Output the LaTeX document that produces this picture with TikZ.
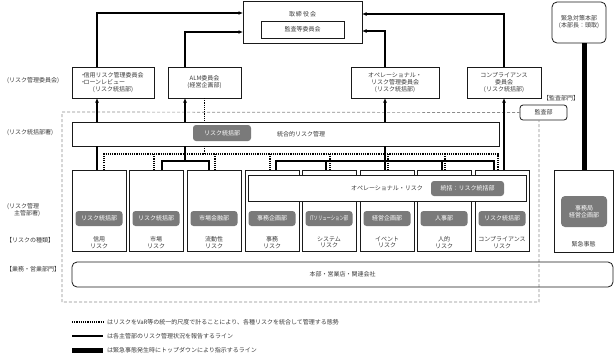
\documentclass[tikz,border=0pt]{standalone}
\usepackage{fontspec}
\setmainfont{Noto Sans CJK JP}
\usetikzlibrary{arrows.meta}
\definecolor{txt}{HTML}{3A3A3A}
\definecolor{gbox}{HTML}{7A7A7A}
\definecolor{ln}{HTML}{1A1A1A}
\definecolor{dsh}{HTML}{8C8C8C}
\begin{document}
\begin{tikzpicture}[x=1pt,y=-1pt,
  every node/.style={font=\fontsize{6}{7}\selectfont, text=txt, inner sep=0pt, outer sep=0pt},
  box/.style={draw=ln, line width=0.8pt, fill=white},
  gtag/.style={fill=gbox, rounded corners=3pt, text=white},
  rep/.style={line width=1.3pt, draw=black},
  arr/.style={rep, -{Latex[length=4.5pt,width=4pt]}},
  dots/.style={line width=1.1pt, draw=black, dash pattern=on 1.1pt off 1.1pt},
  audline/.style={draw=dsh, line width=0.7pt, dash pattern=on 3pt off 2pt},
  thickl/.style={line width=5pt, draw=black},
  lab/.style={anchor=west},
  risktxt/.style={align=center, font=\fontsize{6}{6.5}\selectfont},
]
\useasboundingbox (0,0) rectangle (616,360);

% columns
\coordinate (k1) at (97,0);
\coordinate (k2) at (185,0);
\coordinate (k3) at (385,0);
\coordinate (k4) at (504,0);
\coordinate (ek) at (584,0);

% audit frame (dashed)
\node[box, rounded corners=3pt, minimum width=47, minimum height=15] (audit) at (543.5,112.5) {監査部};
\node (auditl) at (561,98) {【監査部門】};
\coordinate (fTL) at (62,112);
\coordinate (fBL) at (62,302);
\coordinate (fk) at (539,0);
\draw[audline] (audit.west) -- (fTL) -- (fBL) -| (fk |- audit.south);

% board
\node[box, minimum width=119, minimum height=42] (board) at (302.5,22) {};
\node (boardt) at (302.5,14) {取\kern1pt 締\kern1pt 役\kern1pt 会};
\node[box, minimum width=83, minimum height=17] (audc) at (302.5,29.5) {監査等委員会};

% committees
\node[box, minimum width=82, minimum height=31, align=center] (c1) at (113,82.5)
  {\makebox[66pt][l]{・\kern-2.5pt 信用リスク管理委員会}\\\makebox[66pt][l]{・\kern-2.5pt ローンレビュー}\\(リスク統括部)};
\node[box, minimum width=73, minimum height=31, align=center] (c2) at (204.5,82.5) {ALM委員会\\(経営企画部)};
\node[box, minimum width=88, minimum height=31, align=center] (c3) at (395,82.5) {オペレーショナル・\\リスク管理委員会\\(リスク統括部)};
\node[box, minimum width=74, minimum height=31, align=center] (c4) at (504,82.5) {コンプライアンス\\委員会\\(リスク統括部)};
\node[box, rounded corners=5pt, minimum width=54, minimum height=41, align=center] (ehq) at (579,22.5) {緊急対策本部\\(本部長：頭取)};

% arrows to board
\draw[arr] (k1 |- c1.north) |- ([yshift=9pt]board.west);
\draw[arr] (k2 |- c2.north) |- ([yshift=-10pt]board.west);
\draw[arr] (k3 |- c3.north) |- ([yshift=-9pt]board.east);
\draw[arr] (k4 |- c4.north) |- ([yshift=8pt]board.east);

% left labels
\node[lab] (l1) at (7,81) {(リスク管理委員会)};
\node[lab] (l2) at (7,133) {(リスク統括部署)};
\node[lab, align=left, font=\fontsize{6}{6.5}\selectfont] (l3) at (7,210) {(リスク管理\\\hspace*{7pt}主管部署)};
\node[lab] (l4) at (6,240) {【リスクの種類】};
\node[lab] (l5) at (6,269) {【業務・営業部門】};

% integrated risk bar
\node[box, minimum width=427, minimum height=24] (bar) at (285.5,134) {};
\node[gtag, minimum width=58, minimum height=16] (rsk) at (222,133) {リスク統括部};
\node[anchor=west] (intl) at (277,134) {統合的リスク管理};

% risk boxes
\foreach \i/\x/\dept/\rl in {
  1/72/{リスク統括部}/{信用\\リスク},
  2/129/{リスク統括部}/{市場\\リスク},
  3/187/{市場金融部}/{流動性\\リスク},
  4/245/{事務企画部}/{事務\\リスク},
  5/302/{\scalebox{0.72}[1]{ITソリューション部}}/{システム\\リスク},
  6/360/{経営企画部}/{イベント\\リスク},
  7/417/{人事部}/{人的\\リスク},
  8/475/{リスク統括部}/{コンプライアンス\\リスク}}{
  \node[box, minimum width=54, minimum height=81] (r\i) at (\x+27,210.5) {};
  \node[gtag, minimum width=47, minimum height=15] (g\i) at (\x+27,218.5) {\dept};
  \node[risktxt] (t\i) at (\x+27,242.5) {\rl};
}

% operational risk overlay
\node[box, minimum width=278, minimum height=26] (opr) at (387,188) {};
\node (oprt) at (387,188) {オペレーショナル・リスク};
\node[gtag, minimum width=73, minimum height=15] (oprg) at (467.5,188.5) {統括：リスク統括部};

% emergency
\node[box, minimum width=59, minimum height=82] (emg) at (583.5,211) {};
\node[gtag, rounded corners=4pt, minimum width=46, minimum height=31, align=center] (emgg) at (584,211.5) {事務局\\経営企画部};
\node (emgt) at (583.5,244) {緊急事態};
\draw[thickl] (ek |- ehq.south) -- (ek |- emg.north);

% business bar
\node[draw=ln, line width=0.8pt, rounded corners=5pt, minimum width=541, minimum height=25] (biz) at (342.5,274.5) {本部・営業店・関連会社};

% bar <-> committees
\draw[arr] (k1 |- bar.north) -- (k1 |- c1.south);
\draw[arr] (k2 |- bar.north) -- (k2 |- c2.south);
\draw[arr] (k3 |- bar.north) -- (k3 |- c3.south);
\draw[arr] (k4 |- r8.north) -- (k4 |- c4.south);
\draw[dots] (c2.south) -- (c2.south |- bar.north);

% bar -> risk boxes (solid)
\draw[rep] (k1 |- bar.south) -- (k1 |- r1.north);
\coordinate (j2) at (185,161);
\coordinate (s2) at (162,161);
\coordinate (s3) at (209,161);
\draw[rep] (k2 |- bar.south) -- (j2);
\draw[rep] (s2 |- r2.north) -- (s2) -- (s3) -- (s3 |- r3.north);
\coordinate (u4) at (276,161);
\coordinate (u5) at (326,161);
\coordinate (u6) at (385,161);
\coordinate (u7) at (442,161);
\coordinate (u8) at (494,161);
\draw[rep] (k3 |- bar.south) -- (u6);
\draw[rep] (u4 |- r4.north) -- (u4) -- (u8) -- (u8 |- r8.north);
\draw[rep] (u5) -- (u5 |- r5.north);
\draw[rep] (u6) -- (u6 |- r6.north);
\draw[rep] (u7) -- (u7 |- r7.north);

% dotted integration lines
\coordinate (d1) at (104,154);
\coordinate (d2) at (154,154);
\coordinate (d3) at (215,154);
\coordinate (d4) at (270,154);
\coordinate (d5) at (330,154);
\coordinate (d6) at (388,154);
\coordinate (d7) at (445,154);
\coordinate (d8) at (498,154);
\draw[dots] (c2.south |- bar.south) -- (c2.south |- d1);
\draw[dots] (d1 |- r1.north) -- (d1) -- (d8) -- (d8 |- r8.north);
\draw[dots] (d2) -- (d2 |- r2.north);
\draw[dots] (d3) -- (d3 |- r3.north);
\draw[dots] (d4) -- (d4 |- r4.north);
\draw[dots] (d5) -- (d5 |- r5.north);
\draw[dots] (d6) -- (d6 |- r6.north);
\draw[dots] (d7) -- (d7 |- r7.north);

% legend
\coordinate (la1) at (72,322); \coordinate (lb1) at (103,322);
\coordinate (la2) at (72,336); \coordinate (lb2) at (103,336);
\coordinate (la3) at (72,350); \coordinate (lb3) at (103,350);
\draw[dots] (la1) -- (lb1);
\draw[rep] (la2) -- (lb2);
\draw[thickl] (la3) -- (lb3);
\node[lab] (lt1) at (107,322) {はリスクをVaR等の統一的尺度で計ることにより、各種リスクを統合して管理する態勢};
\node[lab] (lt2) at (107,336) {は各主管部のリスク管理状況を報告するライン};
\node[lab] (lt3) at (107,350) {は緊急事態発生時にトップダウンにより指示するライン};
\end{tikzpicture}
\end{document}
